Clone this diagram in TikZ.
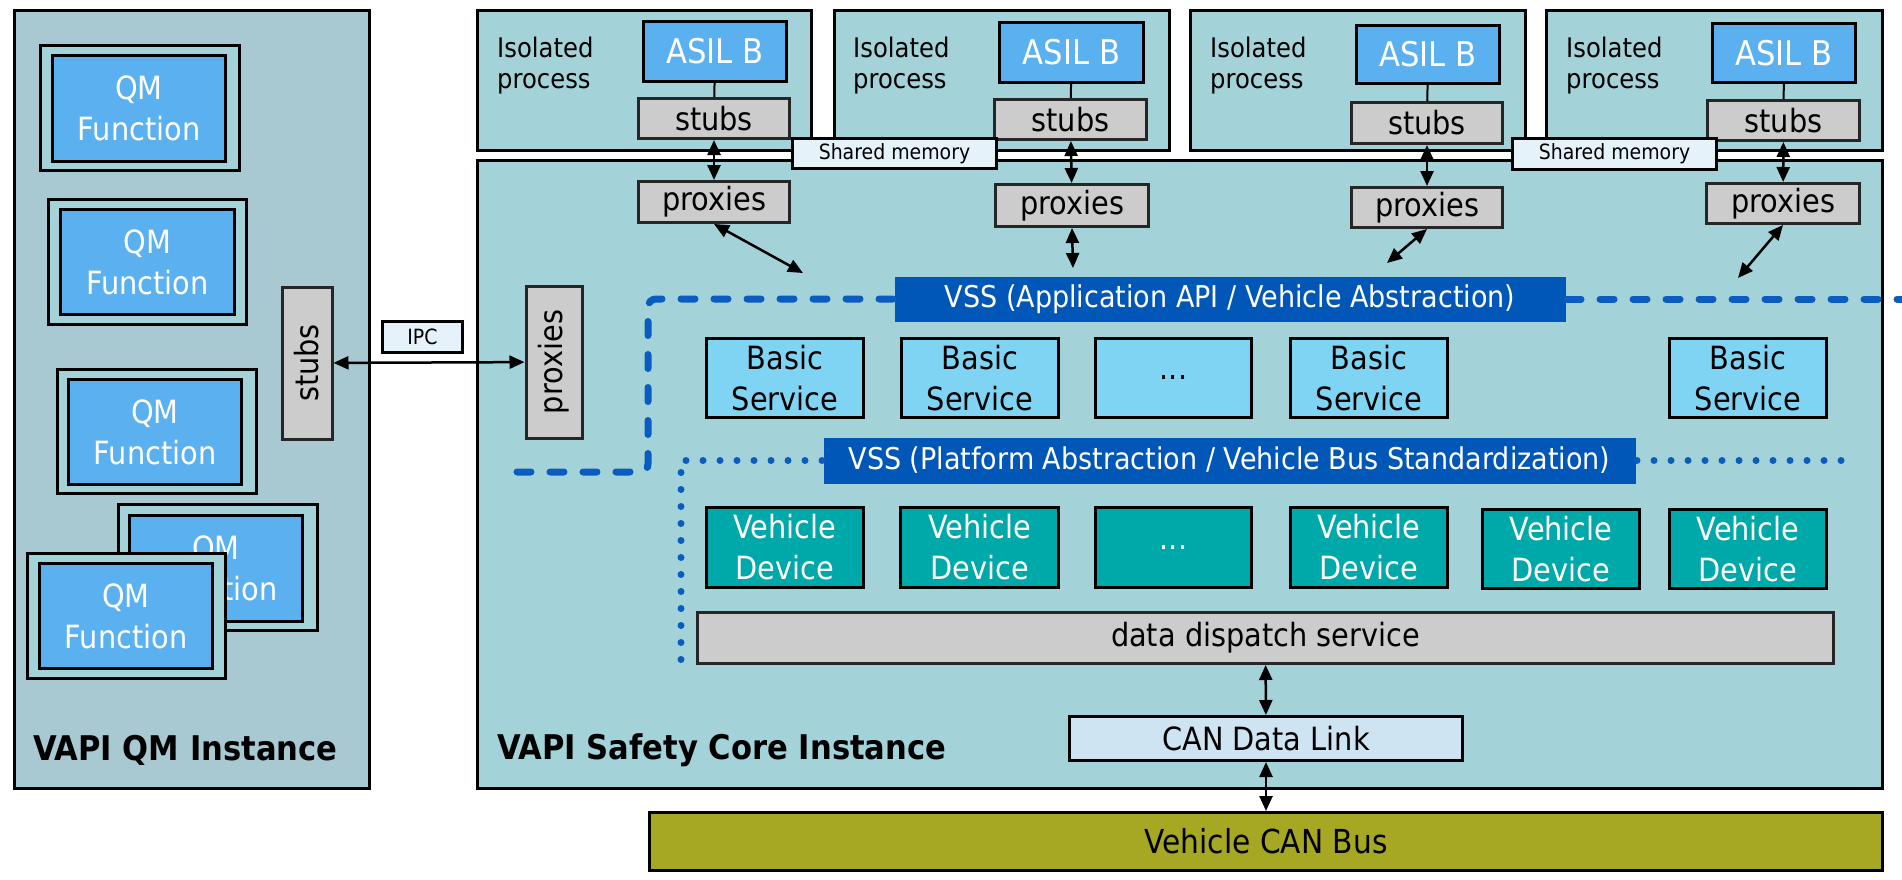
\documentclass[tikz,border=0pt]{standalone}
\usepackage{fontspec}
\setmainfont[FakeStretch=0.9]{DejaVu Sans}
\usetikzlibrary{arrows.meta}
\definecolor{qmbg}{HTML}{A8C8D2}
\definecolor{corebg}{HTML}{A3D3D8}
\definecolor{qmblue}{HTML}{5BB1F0}
\definecolor{graybx}{HTML}{CCCCCC}
\definecolor{lightlab}{HTML}{E6F2FA}
\definecolor{vssblue}{HTML}{0057B7}
\definecolor{svcc}{HTML}{80D4F3}
\definecolor{devc}{HTML}{00A9A9}
\definecolor{canc}{HTML}{CFE4F2}
\definecolor{busc}{HTML}{A6A824}
\definecolor{dashblue}{HTML}{0A5CC0}
\newcommand\mybox[7]{\node[box,#6,minimum width={(#4)-(#2)},minimum height={(#5)-(#3)}] (#1) at (#2,#3) {#7};}
\begin{document}
\begin{tikzpicture}[x=1pt,y=-1pt,
  >={Triangle[length=15pt,width=13pt]},
  box/.style={draw=black,line width=3pt,inner sep=0pt,align=center,anchor=north west},
  instbox/.style={fill=qmbg},
  corebox/.style={fill=corebg},
  qmouter/.style={fill=corebg},
  qminner/.style={fill=qmblue,text=white,font=\fontsize{32}{41}\selectfont},
  asilbox/.style={fill=qmblue,text=white,font=\fontsize{34}{40}\selectfont},
  graybox/.style={fill=graybx,draw=black!85,font=\fontsize{32}{38}\selectfont},
  labbox/.style={fill=lightlab,font=\fontsize{21}{25}\selectfont},
  vssbox/.style={fill=vssblue,draw=none,text=white,font=\fontsize{30}{36}\selectfont},
  svcbox/.style={fill=svcc,font=\fontsize{32}{41}\selectfont},
  devbox/.style={fill=devc,text=white,font=\fontsize{32}{41}\selectfont},
  ddsbox/.style={fill=graybx,draw=black!85,font=\fontsize{32}{38}\selectfont},
  canbox/.style={fill=canc,font=\fontsize{32}{38}\selectfont},
  busbox/.style={fill=busc,font=\fontsize{33}{38}\selectfont},
  isotext/.style={inner sep=0pt,align=left,anchor=north west,font=\fontsize{27}{31}\selectfont},
  titletext/.style={inner sep=0pt,anchor=base west,font=\bfseries\fontsize{34}{40}\selectfont},
  dbl/.style={<->,line width=2.5pt},
  thinline/.style={line width=2pt},
  dashl/.style={draw=dashblue,line width=7pt,line cap=round,dash pattern=on 14pt off 19pt},
  dotl/.style={draw=dashblue,line width=7pt,line cap=round,dash pattern=on 0pt off 17pt}
]
\useasboundingbox (0,0) rectangle (1902,880);

% ---------- QM instance ----------
\mybox{qm}{13}{9}{368}{787}{instbox}{}
\mybox{qm1o}{39}{44}{238}{169}{qmouter}{}
\mybox{qm1}{51}{54}{224}{160}{qminner}{QM\\Function}
\mybox{qm2o}{47}{198}{245}{323}{qmouter}{}
\mybox{qm2}{59}{208}{233}{313}{qminner}{QM\\Function}
\mybox{qm3o}{56}{368}{255}{492}{qmouter}{}
\mybox{qm3}{67}{378}{240}{483}{qminner}{QM\\Function}
\mybox{qm4o}{117}{503}{316}{629}{qmouter}{}
\mybox{qm4}{128}{514}{301}{620}{qminner}{QM\\Function}
\mybox{qm5o}{26}{552}{224}{677}{qmouter}{}
\mybox{qm5}{38}{562}{211}{667}{qminner}{QM\\Function}
\node[box,graybox,anchor=center,rotate=90,minimum width=152,minimum height=50] (vs) at (307,363) {stubs};
\node[titletext] (qmtitle) at (33,760) {VAPI QM Instance};

% ---------- Safety core ----------
\mybox{core}{476}{159}{1881}{787}{corebox}{}
\node[titletext] (coretitle) at (497,759) {VAPI Safety Core Instance};

% isolated processes
\mybox{pr1}{476}{9}{810}{149}{corebox}{}
\mybox{pr2}{833}{9}{1168}{149}{corebox}{}
\mybox{pr3}{1189}{9}{1524}{149}{corebox}{}
\mybox{pr4}{1545}{9}{1881}{149}{corebox}{}
\node[isotext] (it1) at (497,37) {Isolated\\process};
\node[isotext] (it2) at (853,37) {Isolated\\process};
\node[isotext] (it3) at (1210,37) {Isolated\\process};
\node[isotext] (it4) at (1566,37) {Isolated\\process};
\mybox{a1}{642}{20}{785}{80}{asilbox}{ASIL B}
\mybox{a2}{998}{21}{1142}{81}{asilbox}{ASIL B}
\mybox{a3}{1355}{24}{1498}{82}{asilbox}{ASIL B}
\mybox{a4}{1711}{22}{1854}{81}{asilbox}{ASIL B}
\mybox{s1}{637}{97}{788}{137}{graybox}{stubs}
\mybox{s2}{993}{98}{1145}{138}{graybox}{stubs}
\mybox{s3}{1350}{101}{1501}{142}{graybox}{stubs}
\mybox{s4}{1706}{99}{1858}{139}{graybox}{stubs}
\draw[thinline] (a1) -- (s1);
\draw[thinline] (a2) -- (s2);
\draw[thinline] (a3) -- (s3);
\draw[thinline] (a4) -- (s4);
\mybox{p1}{637}{180}{788}{221}{graybox}{proxies}
\mybox{p2}{994}{183}{1147}{225}{graybox}{proxies}
\mybox{p3}{1350}{186}{1501}{226}{graybox}{proxies}
\mybox{p4}{1705}{182}{1858}{222}{graybox}{proxies}
\mybox{sm1}{791}{137}{995}{167}{labbox}{Shared memory}
\mybox{sm2}{1511}{137}{1715}{168}{labbox}{Shared memory}
\draw[dbl] (s1) -- (p1);
\draw[dbl] (s2) -- (p2);
\draw[dbl] (s3) -- (p3);
\draw[dbl] (s4) -- (p4);

% VSS layers
\mybox{vssA}{893}{275}{1564}{320}{vssbox}{VSS (Application API / Vehicle Abstraction)}
\mybox{vssP}{822}{436}{1634}{482}{vssbox}{VSS (Platform Abstraction / Vehicle Bus Standardization)}
\draw[dashl,rounded corners=8pt] (vssA.west) -| (648,472) -- (504,472);
\draw[dashl] (vssA.east) -- +(345,0);
\draw[dotl] (vssP.west) -| (681,672);
\draw[dotl] (vssP.east) -- +(208,0);

\coordinate (c1) at (803,273);
\coordinate (c2) at (1073,268);
\coordinate (c3) at (1387,263);
\coordinate (c4) at (1738,278);
\draw[dbl] (p1.south) -- (c1);
\draw[dbl] (p2.south) -- (c2);
\draw[dbl] (p3.south) -- (c3);
\draw[dbl] (p4.south) -- (c4);

% vertical proxies and IPC
\node[box,graybox,anchor=center,rotate=90,minimum width=152,minimum height=56] (vp) at (554,362) {proxies};
\mybox{ipc}{381}{320}{461}{351}{labbox}{IPC}
\draw[dbl] (vs) -- (vp);

% services
\mybox{b1}{705}{337}{862}{416}{svcbox}{Basic\\Service}
\mybox{b2}{900}{337}{1057}{416}{svcbox}{Basic\\Service}
\mybox{b3}{1094}{337}{1250}{416}{svcbox}{...}
\mybox{b4}{1289}{337}{1446}{416}{svcbox}{Basic\\Service}
\mybox{b5}{1668}{337}{1825}{416}{svcbox}{Basic\\Service}

% devices
\mybox{d1}{705}{506}{862}{586}{devbox}{Vehicle\\Device}
\mybox{d2}{899}{506}{1057}{586}{devbox}{Vehicle\\Device}
\mybox{d3}{1094}{506}{1250}{586}{devbox}{...}
\mybox{d4}{1289}{506}{1446}{586}{devbox}{Vehicle\\Device}
\mybox{d5}{1481}{508}{1638}{587}{devbox}{Vehicle\\Device}
\mybox{d6}{1668}{508}{1825}{587}{devbox}{Vehicle\\Device}

% dispatch, CAN
\mybox{dds}{696}{611}{1832}{662}{ddsbox}{data dispatch service}
\mybox{can}{1068}{715}{1461}{759}{canbox}{CAN Data Link}
\mybox{bus}{648}{811}{1881}{869}{busbox}{Vehicle CAN Bus}
\draw[dbl] (dds) -- (can);
\draw[dbl] (can) -- (bus);
\end{tikzpicture}
\end{document}
